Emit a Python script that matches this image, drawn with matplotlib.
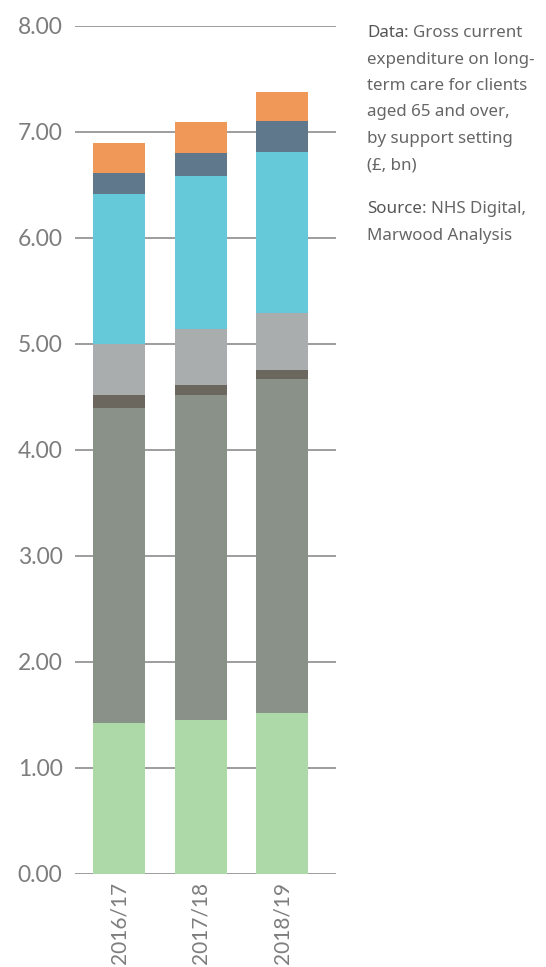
import numpy as np
import matplotlib.pyplot as plt

# Data: gross current expenditure on long-term care, clients 65+ (GBP bn)
years = ['2016/17', '2017/18', '2018/19']
green = [1.42, 1.45, 1.52]
dark_grey = [2.98, 3.07, 3.15]
brown = [0.12, 0.09, 0.08]
light_grey = [0.48, 0.53, 0.54]
cyan = [1.41, 1.44, 1.525]
slate = [0.20, 0.225, 0.285]
orange = [0.29, 0.285, 0.28]

series = [green, dark_grey, brown, light_grey, cyan, slate, orange]
colors = ['#ADD8A8', '#899189', '#6B675E', '#A9ADAE', '#66C9DA', '#5F788C', '#F09858']

fig = plt.figure(figsize=(5.46, 9.67), dpi=100)
ax = fig.add_axes([0.1374, 0.0962, 0.478, 0.877])

x = np.arange(len(years))
bottom = np.zeros(len(years))
for vals, c in zip(series, colors):
    ax.bar(x, vals, bottom=bottom, width=0.64, color=c, zorder=3)
    bottom += np.array(vals)

# Axis styling
ax.set_xlim(-0.54, 2.66)
ax.set_ylim(0, 8)
ax.set_yticks(np.arange(0, 9, 1))
ax.set_yticklabels([f'{v:.2f}' for v in range(9)])
ax.set_xticks(x)
ax.set_xticklabels(years, rotation=90, va='top', ha='center')
for s in ax.spines.values():
    s.set_visible(False)
ax.yaxis.grid(True, color='#8c8c8c', linewidth=1.2, zorder=1)
ax.set_axisbelow(True)
ax.tick_params(axis='both', length=0, colors='#7d7d7d')
ax.tick_params(axis='y', pad=9, labelsize=16.5)
ax.tick_params(axis='x', pad=6, labelsize=15)
for lbl in ax.get_yticklabels() + ax.get_xticklabels():
    lbl.set_family('Lato')

# Side note
note_font = dict(family='Noto Sans', fontsize=12.2)
lines = ['expenditure on long-', 'term care for clients', 'aged 65 and over,',
         'by support setting', '(£, bn)']
t = fig.text(367 / 546, 1 - 37 / 967, 'Data', color='#555555', weight='bold',
             va='baseline', **note_font)
ax.annotate(': Gross current', xy=(1, 0), xycoords=t, va='bottom', ha='left',
            color='#666666', **note_font)
for i, line in enumerate(lines):
    fig.text(367 / 546, 1 - (37 + 26.5 * (i + 1)) / 967, line, color='#666666',
             va='baseline', **note_font)
s = fig.text(367 / 546, 1 - 213 / 967, 'Source', color='#555555', weight='bold',
             va='baseline', **note_font)
ax.annotate(': NHS Digital,', xy=(1, 0), xycoords=s, va='bottom', ha='left',
            color='#666666', **note_font)
fig.text(367 / 546, 1 - 239.5 / 967, 'Marwood Analysis', color='#666666',
         va='baseline', **note_font)

fig.savefig('out.png', dpi=100)
